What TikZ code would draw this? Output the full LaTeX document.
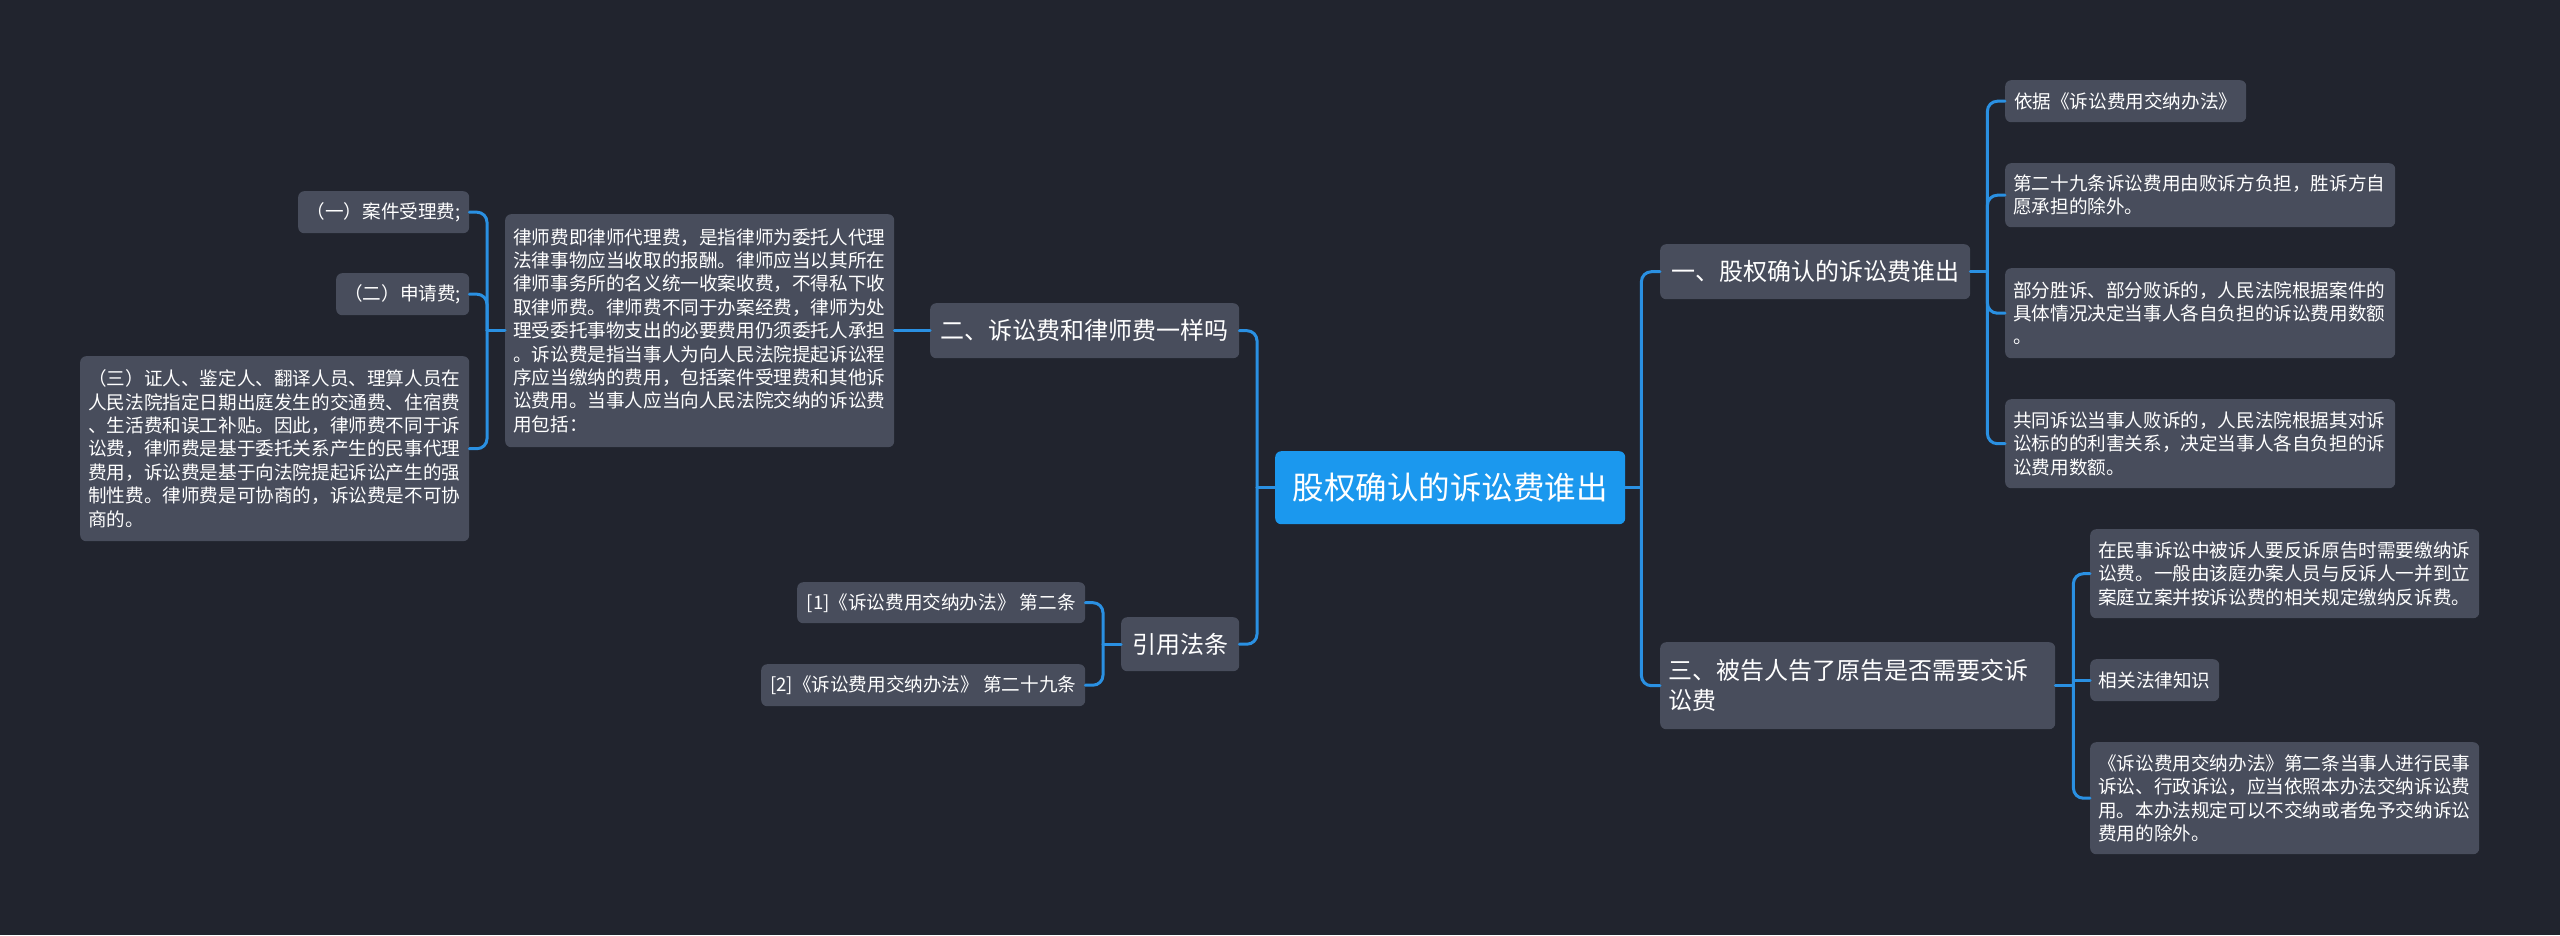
\documentclass[tikz,border=0pt]{standalone}
\usepackage{fontspec}
\setmainfont{Noto Sans CJK SC}
\definecolor{bg}{HTML}{21242E}
\definecolor{boxc}{HTML}{484D5C}
\definecolor{rootc}{HTML}{1B98EE}
\definecolor{linec}{HTML}{2A90E2}
\begin{document}
\begin{tikzpicture}[x=1pt,y=-1pt,
 base/.style={rounded corners=6pt, fill=boxc, text=white, inner xsep=8pt, inner ysep=0pt, anchor=north west},
 leaf/.style={base, font=\fontsize{18.6}{23.4}\selectfont, align=left},
 mid/.style={base, font=\fontsize{24}{30}\selectfont, align=left},
 rootbox/.style={base, fill=rootc, font=\fontsize{31.5}{38}\selectfont},
 conn/.style={draw=linec, line width=3pt, rounded corners=10pt, line cap=round},
]
\fill[bg] (0,0) rectangle (2560,935);
\useasboundingbox (0,0) rectangle (2560,935);

% root
\node[rootbox, minimum width=350pt, minimum height=73pt] (root) at (1275,451) {股权确认的诉讼费谁出};

% right branch 1
\node[mid, minimum width=310pt, minimum height=55pt] (n1) at (1660,244) {一、股权确认的诉讼费谁出};
\node[leaf, minimum width=241pt, minimum height=42pt] (n1a) at (2005,80) {依据《诉讼费用交纳办法》};
\node[leaf, text width=374pt, minimum height=64pt] (n1b) at (2005,163) {第二十九条诉讼费用由败诉方负担，胜诉方自\\愿承担的除外。};
\node[leaf, text width=374pt, minimum height=90pt] (n1c) at (2005,268) {部分胜诉、部分败诉的，人民法院根据案件的\\具体情况决定当事人各自负担的诉讼费用数额\\。};
\node[leaf, text width=374pt, minimum height=89pt] (n1d) at (2005,399) {共同诉讼当事人败诉的，人民法院根据其对诉\\讼标的的利害关系，决定当事人各自负担的诉\\讼费用数额。};

% right branch 3
\node[mid, text width=379pt, minimum height=87pt] (n3) at (1660,642) {三、被告人告了原告是否需要交诉\\讼费};
\node[leaf, text width=373pt, minimum height=89pt] (n3a) at (2090,529) {在民事诉讼中被诉人要反诉原告时需要缴纳诉\\讼费。一般由该庭办案人员与反诉人一并到立\\案庭立案并按诉讼费的相关规定缴纳反诉费。};
\node[leaf, minimum width=129pt, minimum height=42pt] (n3b) at (2090,659) {相关法律知识};
\node[leaf, text width=373pt, minimum height=112pt] (n3c) at (2090,742) {《诉讼费用交纳办法》第二条当事人进行民事\\诉讼、行政诉讼，应当依照本办法交纳诉讼费\\用。本办法规定可以不交纳或者免予交纳诉讼\\费用的除外。};

% left branch 2
\node[mid, minimum width=309pt, minimum height=55pt] (n2) at (930,303) {二、诉讼费和律师费一样吗};
\node[leaf, text width=373pt, minimum height=233pt] (n2a) at (505,214) {律师费即律师代理费，是指律师为委托人代理\\法律事物应当收取的报酬。律师应当以其所在\\律师事务所的名义统一收案收费，不得私下收\\取律师费。律师费不同于办案经费，律师为处\\理受委托事物支出的必要费用仍须委托人承担\\。诉讼费是指当事人为向人民法院提起诉讼程\\序应当缴纳的费用，包括案件受理费和其他诉\\讼费用。当事人应当向人民法院交纳的诉讼费\\用包括：};
\node[leaf, minimum width=171pt, minimum height=42pt] (n2a1) at (298,191) {（一）案件受理费;};
\node[leaf, minimum width=133pt, minimum height=42pt] (n2a2) at (336,273) {（二）申请费;};
\node[leaf, text width=373pt, minimum height=185pt] (n2a3) at (80,356) {（三）证人、鉴定人、翻译人员、理算人员在\\人民法院指定日期出庭发生的交通费、住宿费\\、生活费和误工补贴。因此，律师费不同于诉\\讼费，律师费是基于委托关系产生的民事代理\\费用，诉讼费是基于向法院提起诉讼产生的强\\制性费。律师费是可协商的，诉讼费是不可协\\商的。};

% left branch 4
\node[mid, minimum width=118pt, minimum height=54pt] (n4) at (1121,617) {引用法条};
\node[leaf, minimum width=288pt, minimum height=41pt] (n4a) at (797,582) {[1]《诉讼费用交纳办法》 第二条};
\node[leaf, minimum width=324pt, minimum height=42pt] (n4b) at (761,664) {[2]《诉讼费用交纳办法》 第二十九条};

% connectors right
\draw[conn] (root.east) -- ++(16,0) coordinate (jr);
\draw[conn] (jr) |- (n1.west);
\draw[conn] (jr) |- (n3.west);
\draw[conn] (n1.east) -- ++(17,0) coordinate (j1);
\draw[conn] (j1) |- (n1a.west);
\draw[conn] (j1) |- (n1b.west);
\draw[conn] (j1) |- (n1c.west);
\draw[conn] (j1) |- (n1d.west);
\draw[conn] (n3.east) -- ++(18,0) coordinate (j3);
\draw[conn] (j3) |- (n3a.west);
\draw[conn] (n3b.west -| j3) -- (n3b.west);
\draw[conn] (j3) |- (n3c.west);

% connectors left
\draw[conn] (root.west) -- ++(-18,0) coordinate (jl);
\draw[conn] (jl) |- (n2.east);
\draw[conn] (jl) |- (n4.east);
\draw[conn] (n2.west) -- (n2a.east);
\draw[conn] (n2a.west) -- ++(-18,0) coordinate (ja);
\draw[conn] (ja) |- (n2a1.east);
\draw[conn] (ja) |- (n2a2.east);
\draw[conn] (ja) |- (n2a3.east);
\draw[conn] (n4.west) -- ++(-18,0) coordinate (jb);
\draw[conn] (jb) |- (n4a.east);
\draw[conn] (jb) |- (n4b.east);
\end{tikzpicture}
\end{document}
